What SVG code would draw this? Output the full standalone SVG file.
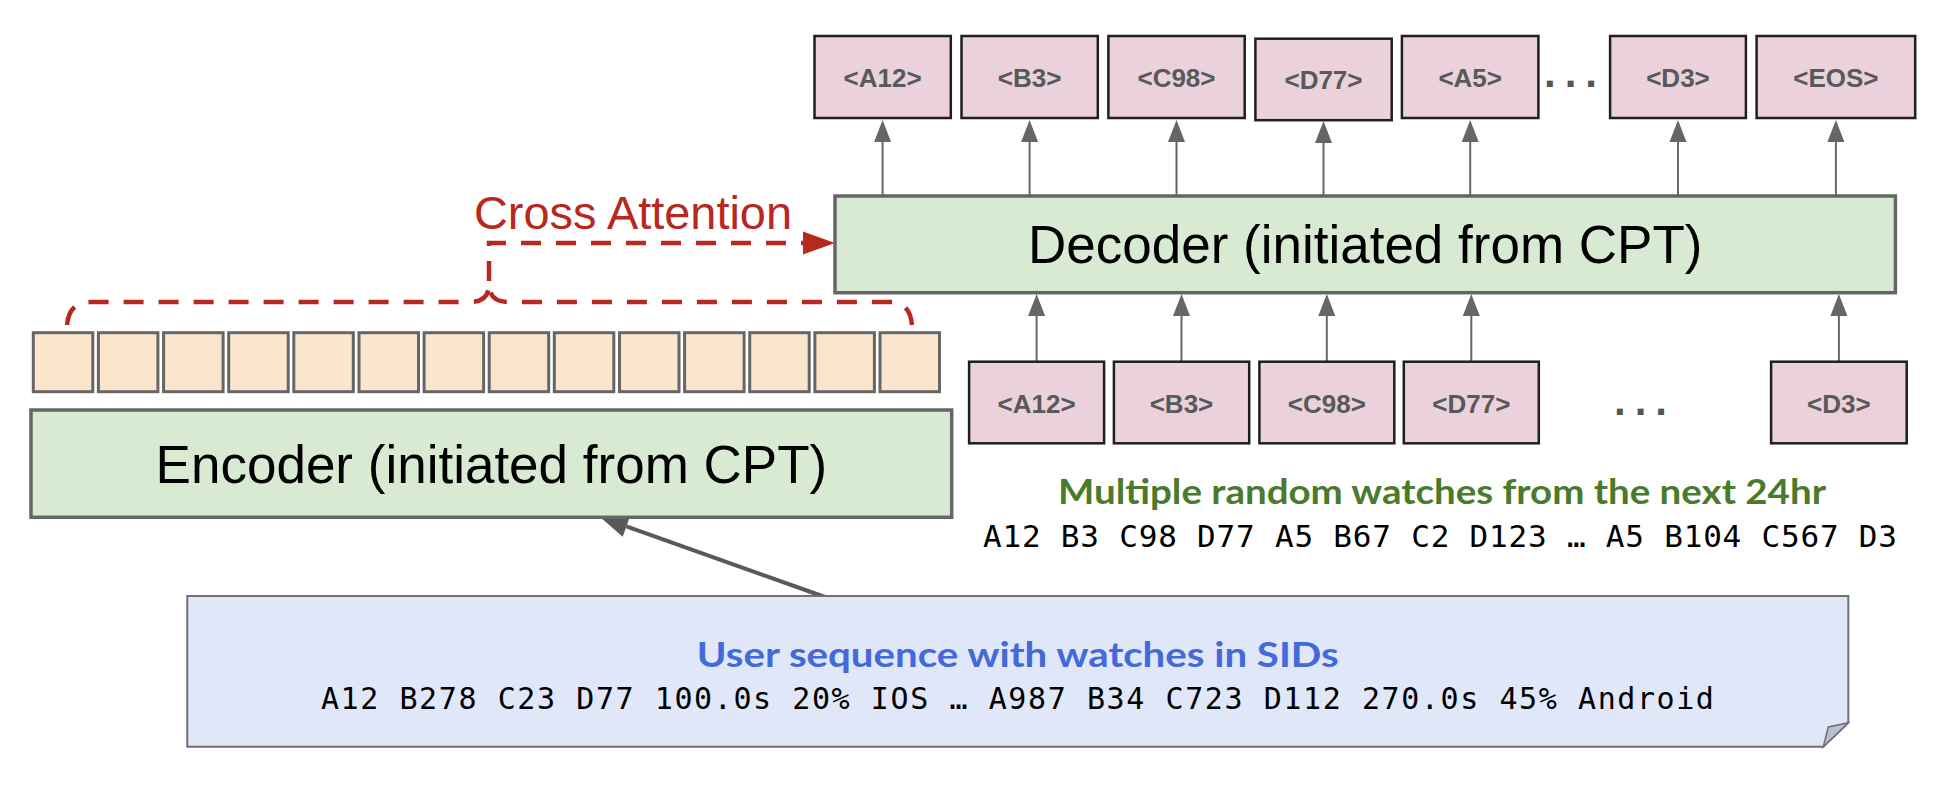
<svg xmlns="http://www.w3.org/2000/svg" width="1948" height="788" viewBox="0 0 1948 788">
<defs>
<style>
.tok{fill:#ead1dc;stroke:#1f1f1f;stroke-width:2.5}
.tokt{font-family:'Liberation Sans',Arial,sans-serif;font-weight:bold;font-size:26px;fill:#595959;text-anchor:middle}
.big{fill:#d9ead3;stroke:#666;stroke-width:3.5}
.bigt{font-family:'Liberation Sans',Arial,sans-serif;font-size:53px;fill:#000;text-anchor:middle}
.cell{fill:#fce5cd;stroke:#666;stroke-width:3}
.conn{stroke:#666;stroke-width:2;fill:none}
.red{stroke:#b7281e;stroke-width:4.5;fill:none;stroke-dasharray:20 15}
.mono{font-family:'DejaVu Sans Mono','Liberation Mono',monospace;fill:#000}
.dots{font-family:'Liberation Sans',Arial,sans-serif;font-weight:bold;fill:#555}
</style>
<marker id="ah" markerUnits="userSpaceOnUse" markerWidth="22" markerHeight="17" refX="0" refY="8.5" orient="auto" overflow="visible">
<path d="M0,0 L22,8.5 L0,17 z" fill="#666"/>
</marker>
<marker id="ahBig" markerUnits="userSpaceOnUse" markerWidth="28" markerHeight="22" refX="0" refY="11" orient="auto" overflow="visible">
<path d="M0,0 L28,11 L0,22 z" fill="#595959"/>
</marker>
<marker id="ahRed" markerUnits="userSpaceOnUse" markerWidth="32" markerHeight="23" refX="0" refY="11.5" orient="auto" overflow="visible">
<path d="M0,0 L32,11.5 L0,23 z" fill="#b7281e"/>
</marker>
</defs>
<rect width="1948" height="788" fill="#fff"/>

<g id="connectors">
<line class="conn" x1="882.6" y1="196" x2="882.6" y2="142" marker-end="url(#ah)"/>
<line class="conn" x1="1029.6" y1="196" x2="1029.6" y2="142" marker-end="url(#ah)"/>
<line class="conn" x1="1176.5" y1="196" x2="1176.5" y2="142" marker-end="url(#ah)"/>
<line class="conn" x1="1323.5" y1="196" x2="1323.5" y2="143" marker-end="url(#ah)"/>
<line class="conn" x1="1470.2" y1="196" x2="1470.2" y2="142" marker-end="url(#ah)"/>
<line class="conn" x1="1678" y1="196" x2="1678" y2="142" marker-end="url(#ah)"/>
<line class="conn" x1="1835.9" y1="196" x2="1835.9" y2="142" marker-end="url(#ah)"/>
<line class="conn" x1="1036.6" y1="361.7" x2="1036.6" y2="316" marker-end="url(#ah)"/>
<line class="conn" x1="1181.5" y1="361.7" x2="1181.5" y2="316" marker-end="url(#ah)"/>
<line class="conn" x1="1326.8" y1="361.7" x2="1326.8" y2="316" marker-end="url(#ah)"/>
<line class="conn" x1="1471.3" y1="361.7" x2="1471.3" y2="316" marker-end="url(#ah)"/>
<line class="conn" x1="1838.9" y1="361.7" x2="1838.9" y2="316" marker-end="url(#ah)"/>
<line x1="825" y1="597" x2="626.4" y2="526.3" stroke="#595959" stroke-width="4" marker-end="url(#ahBig)"/>
<path class="red" d="M67,325 Q69,302 90,302 L470,302 Q489,302 489,284 Q489,302 508,302 L890,302 Q910,302 912,325"/>
<path class="red" d="M489,281 L489,243 L803,243" marker-end="url(#ahRed)"/>
</g>

<g id="cross-attention-label">
<text x="474" y="229" font-family="'Liberation Sans',Arial,sans-serif" font-size="47" fill="#b7281e" textLength="318" lengthAdjust="spacingAndGlyphs">Cross Attention</text>
</g>

<g id="decoder">
<rect class="big" x="835" y="196" width="1060.4" height="96.7"/>
<text class="bigt" x="1365.2" y="263">Decoder (initiated from CPT)</text>
</g>

<g id="encoder">
<rect class="big" x="31" y="410" width="920.7" height="107.3"/>
<text class="bigt" x="491.4" y="483">Encoder (initiated from CPT)</text>
</g>

<g id="encoder-outputs">
<rect class="cell" x="33.3" y="332.7" width="59.5" height="59"/>
<rect class="cell" x="98.4" y="332.7" width="59.5" height="59"/>
<rect class="cell" x="163.6" y="332.7" width="59.5" height="59"/>
<rect class="cell" x="228.7" y="332.7" width="59.5" height="59"/>
<rect class="cell" x="293.8" y="332.7" width="59.5" height="59"/>
<rect class="cell" x="359" y="332.7" width="59.5" height="59"/>
<rect class="cell" x="424.1" y="332.7" width="59.5" height="59"/>
<rect class="cell" x="489.2" y="332.7" width="59.5" height="59"/>
<rect class="cell" x="554.3" y="332.7" width="59.5" height="59"/>
<rect class="cell" x="619.5" y="332.7" width="59.5" height="59"/>
<rect class="cell" x="684.6" y="332.7" width="59.5" height="59"/>
<rect class="cell" x="749.7" y="332.7" width="59.5" height="59"/>
<rect class="cell" x="814.9" y="332.7" width="59.5" height="59"/>
<rect class="cell" x="880" y="332.7" width="59.5" height="59"/>
</g>

<g id="out-A12"><rect class="tok" x="814.5" y="36" width="136.3" height="82"/><text class="tokt" x="882.6" y="86.5">&lt;A12&gt;</text></g>
<g id="out-B3"><rect class="tok" x="961.5" y="36" width="136.3" height="82"/><text class="tokt" x="1029.6" y="86.5">&lt;B3&gt;</text></g>
<g id="out-C98"><rect class="tok" x="1108.4" y="36" width="136.3" height="82"/><text class="tokt" x="1176.5" y="86.5">&lt;C98&gt;</text></g>
<g id="out-D77"><rect class="tok" x="1255.4" y="38.7" width="136.3" height="81.5"/><text class="tokt" x="1323.5" y="89">&lt;D77&gt;</text></g>
<g id="out-A5"><rect class="tok" x="1401.9" y="36" width="136.5" height="82"/><text class="tokt" x="1470.2" y="86.5">&lt;A5&gt;</text></g>
<g id="out-dots"><text class="dots" x="1544" y="87" font-size="42" letter-spacing="9">...</text></g>
<g id="out-D3"><rect class="tok" x="1610.1" y="36" width="135.8" height="82"/><text class="tokt" x="1678" y="86.5">&lt;D3&gt;</text></g>
<g id="out-EOS"><rect class="tok" x="1756.6" y="36" width="158.6" height="82"/><text class="tokt" x="1835.9" y="86.5">&lt;EOS&gt;</text></g>

<g id="in-A12"><rect class="tok" x="969.1" y="361.7" width="135" height="81.6"/><text class="tokt" x="1036.6" y="413">&lt;A12&gt;</text></g>
<g id="in-B3"><rect class="tok" x="1113.9" y="361.7" width="135.3" height="81.6"/><text class="tokt" x="1181.5" y="413">&lt;B3&gt;</text></g>
<g id="in-C98"><rect class="tok" x="1259.4" y="361.7" width="134.9" height="81.6"/><text class="tokt" x="1326.8" y="413">&lt;C98&gt;</text></g>
<g id="in-D77"><rect class="tok" x="1403.8" y="361.7" width="135" height="81.6"/><text class="tokt" x="1471.3" y="413">&lt;D77&gt;</text></g>
<g id="in-dots"><text class="dots" x="1614" y="415" font-size="42" letter-spacing="9">...</text></g>
<g id="in-D3"><rect class="tok" x="1771.1" y="361.7" width="135.6" height="81.6"/><text class="tokt" x="1838.9" y="413">&lt;D3&gt;</text></g>

<g id="target-caption">
<text x="1442" y="504" font-family="Lato,'Open Sans',sans-serif" font-weight="bold" font-size="34" fill="#4a7b2c" text-anchor="middle" textLength="768" lengthAdjust="spacingAndGlyphs">Multiple random watches from the next 24hr</text>
<text class="mono" x="1440" y="547" font-size="31" text-anchor="middle" textLength="914" lengthAdjust="spacing">A12 B3 C98 D77 A5 B67 C2 D123 … A5 B104 C567 D3</text>
</g>

<g id="user-sequence">
<path d="M187.3,596 L1848.3,596 L1848.3,722.7 L1823.3,746.7 L187.3,746.7 Z" fill="#dfe7f9" stroke="#707070" stroke-width="2"/>
<path d="M1848.3,722.7 L1828.3,727 L1823.3,746.7 Z" fill="#b8bfcd" stroke="#707070" stroke-width="1.5"/>
<text x="1017.8" y="667" font-family="Lato,'Open Sans',sans-serif" font-weight="bold" font-size="35" fill="#4469d9" text-anchor="middle" textLength="642" lengthAdjust="spacingAndGlyphs">User sequence with watches in SIDs</text>
<text class="mono" x="1017.4" y="709" font-size="30" text-anchor="middle" textLength="1393" lengthAdjust="spacing">A12 B278 C23 D77 100.0s 20% IOS  … A987 B34 C723 D112 270.0s 45% Android</text>
</g>
</svg>
